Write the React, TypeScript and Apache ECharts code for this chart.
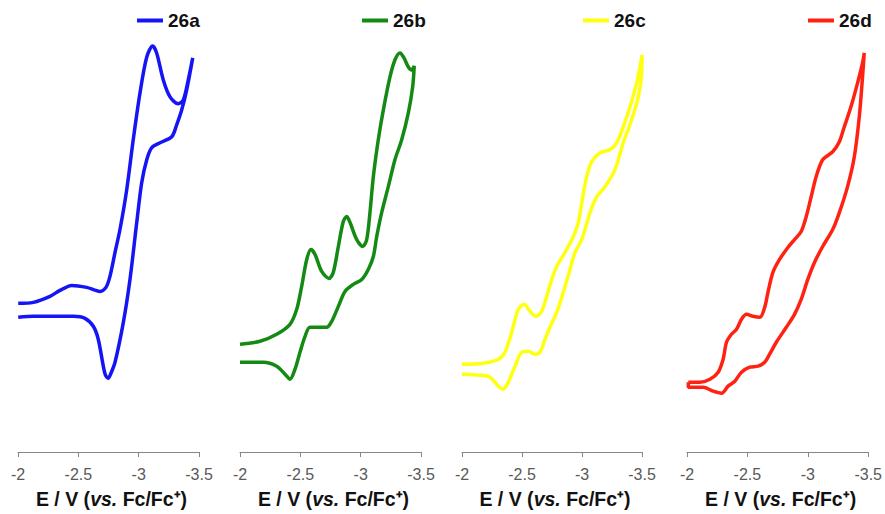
import React, { useEffect, useRef } from "react";
import * as echarts from "echarts";

// ---------- data ----------
const seriesNames = ["26a", "26b", "26c", "26d"];
const xTickMin = -3.5;
const xTickMax = -2;
const xTickStep = 0.5;

// 26a: potential (V vs Fc/Fc+) and current (a.u.), scan order
const e26a = [
  -2.002, -2.127, -2.265, -2.348, -2.445, -2.569, -2.68, -2.729, -2.762, -2.804, -2.845, -2.901,
  -2.955, -3.011, -3.067, -3.116, -3.149, -3.204, -3.26, -3.328, -3.37, -3.411, -3.448,
  -3.398, -3.357, -3.315, -3.274, -3.177, -3.108, -3.067, -3.025, -2.984, -2.928, -2.873,
  -2.804, -2.767, -2.748, -2.725, -2.707, -2.665, -2.624, -2.555, -2.458, -2.127, -2.002,
];
const i26a = [
  14.9, 15.0, 15.6, 16.2, 16.7, 16.5, 16.1, 16.5, 17.6, 20.0, 22.3, 26.3,
  31.3, 36.0, 39.6, 40.7, 40.0, 37.3, 35.6, 34.9, 35.3, 37.3, 39.5,
  36.3, 34.3, 32.8, 31.6, 31.0, 30.5, 29.3, 27.0, 23.0, 17.3, 13.0,
  9.0, 7.8, 7.4, 7.7, 8.6, 11.3, 12.6, 13.4, 13.6, 13.6, 13.5,
];

// 26b
const e26b = [
  -2.0, -2.166, -2.304, -2.414, -2.47, -2.511, -2.553, -2.588, -2.622, -2.677, -2.738, -2.773,
  -2.815, -2.856, -2.884, -2.912, -2.967, -3.017, -3.05, -3.077, -3.105, -3.146, -3.188,
  -3.243, -3.284, -3.326, -3.359, -3.395, -3.423, -3.444,
  -3.431, -3.395, -3.34, -3.284, -3.229, -3.174, -3.133, -3.105, -3.063, -3.009, -2.939,
  -2.87, -2.815, -2.76, -2.718, -2.649, -2.58, -2.539, -2.497, -2.456, -2.414, -2.373,
  -2.304, -2.193, -2.0,
];
const i26b = [
  10.8, 11.1, 11.8, 12.8, 14.3, 16.6, 19.3, 20.3, 19.8, 18.1, 17.4, 18.0,
  20.6, 23.1, 23.6, 23.0, 21.3, 20.6, 21.3, 24.0, 27.6, 31.3, 34.3,
  37.6, 39.3, 40.0, 39.5, 38.6, 38.3, 38.7,
  36.6, 34.0, 31.3, 29.3, 26.6, 24.0, 21.6, 19.6, 18.3, 17.3, 16.8,
  16.1, 14.6, 13.1, 12.5, 12.5, 12.5, 11.6, 10.0, 8.3, 7.3, 7.8,
  8.6, 9.0, 9.0,
];

// 26c
const e26c = [
  -2.0, -2.178, -2.303, -2.358, -2.414, -2.469, -2.517, -2.567, -2.617, -2.664, -2.706, -2.748,
  -2.789, -2.858, -2.928, -2.969, -2.998, -3.039, -3.081, -3.15, -3.233, -3.289, -3.344,
  -3.4, -3.456, -3.49, -3.5,
  -3.495, -3.469, -3.414, -3.344, -3.275, -3.192, -3.123, -3.067, -2.998, -2.942, -2.9,
  -2.844, -2.789, -2.733, -2.692, -2.65, -2.608, -2.553, -2.498, -2.442, -2.386, -2.344,
  -2.303, -2.233, -2.15, -2.0,
];
const i26c = [
  8.8, 8.9, 9.3, 10.0, 12.0, 14.3, 14.8, 14.1, 13.6, 14.1, 15.6, 17.3,
  18.6, 20.0, 21.6, 23.0, 25.0, 27.6, 29.1, 30.0, 30.3, 31.0, 32.6,
  34.6, 37.0, 39.0, 39.8,
  37.6, 35.6, 33.3, 31.0, 28.3, 26.6, 25.6, 24.0, 21.3, 20.0, 18.3,
  16.0, 14.0, 12.5, 11.3, 10.0, 9.8, 10.1, 10.0, 8.6, 7.0, 6.3,
  6.6, 7.5, 7.7, 7.8,
];

// 26d
const e26d = [
  -2.011, -2.107, -2.19, -2.258, -2.299, -2.327, -2.368, -2.41, -2.451, -2.492, -2.546, -2.602,
  -2.643, -2.67, -2.711, -2.766, -2.835, -2.89, -2.945, -2.987, -3.028, -3.069, -3.123,
  -3.206, -3.261, -3.302, -3.357, -3.412, -3.453, -3.467,
  -3.453, -3.426, -3.385, -3.329, -3.261, -3.206, -3.123, -3.055, -3.0, -2.945, -2.89,
  -2.822, -2.739, -2.684, -2.643, -2.588, -2.519, -2.451, -2.396, -2.34, -2.286, -2.217,
  -2.134, -2.011, -2.011,
];
const i26d = [
  7.0, 7.0, 7.3, 8.0, 9.3, 11.0, 11.8, 12.3, 13.3, 13.8, 13.6, 13.5,
  14.5, 16.0, 18.0, 19.3, 20.5, 21.3, 22.1, 23.6, 25.6, 27.6, 29.3,
  30.1, 31.1, 32.6, 34.6, 37.0, 39.0, 40.0,
  37.6, 33.6, 29.6, 26.6, 24.0, 22.3, 20.6, 19.0, 17.3, 15.3, 13.8,
  12.5, 11.0, 9.8, 9.0, 8.6, 8.5, 8.0, 7.1, 6.6, 5.9, 6.1,
  6.5, 6.5, 7.0,
];

const potentials = [e26a, e26b, e26c, e26d];
const currents = [i26a, i26b, i26c, i26d];

// ---------- layout / style ----------
const colors = ["#1414f5", "#148a14", "#ffff10", "#ff2212"];
const gridLefts = [18, 240, 462, 687];
const gridWidths = [181, 181, 180, 182];
const legendLefts = [137, 362, 583, 808];
const FONT = "'Liberation Sans', Arial, Helvetica, sans-serif";

export default function App() {
  const ref = useRef<HTMLDivElement>(null);

  useEffect(() => {
    if (!ref.current) return;
    const chart = echarts.init(ref.current, undefined, { renderer: "svg" });

    const grids = gridLefts.map((l, i) => ({
      left: l,
      width: gridWidths[i],
      top: 40,
      bottom: 61,
    }));

    const xAxes = seriesNames.map((_, i) => ({
      type: "value",
      gridIndex: i,
      min: xTickMin,
      max: xTickMax,
      interval: xTickStep,
      inverse: true,
      splitLine: { show: false },
      axisLine: { show: true, onZero: false, lineStyle: { color: "#878787", width: 1 } },
      axisTick: { show: true, inside: false, length: 5, lineStyle: { color: "#878787" } },
      axisLabel: {
        color: "#595959",
        fontSize: 16,
        fontFamily: FONT,
        margin: 14,
      },
      name: "{b|E / V (}{i|vs.}{b| Fc/Fc⁺)}",
      nameLocation: "middle",
      nameGap: 37,
      nameTextStyle: {
        padding: [0, 0, 0, 6],
        rich: {
          b: { fontSize: 19.5, fontWeight: "bold", color: "#111", fontFamily: FONT },
          i: { fontSize: 19.5, fontWeight: "bold", fontStyle: "italic", color: "#111", fontFamily: FONT },
        },
      },
    }));

    const yAxes = seriesNames.map((_, i) => ({
      type: "value",
      gridIndex: i,
      min: 0,
      max: 41.3,
      show: false,
    }));

    const series = seriesNames.map((name, i) => ({
      name,
      type: "line",
      xAxisIndex: i,
      yAxisIndex: i,
      data: potentials[i].map((e, k) => [e, currents[i][k]]),
      symbol: "none",
      smooth: 0.3,
      lineStyle: { color: colors[i], width: 3.5 },
      itemStyle: { color: colors[i] },
      clip: false,
    }));

    const legends = seriesNames.map((name, i) => ({
      data: [name],
      left: legendLefts[i],
      top: 11,
      padding: 0,
      icon: "rect",
      itemWidth: 26,
      itemHeight: 4,
      selectedMode: false,
      textStyle: { fontSize: 19, fontWeight: "bold", color: "#111", fontFamily: FONT },
    }));

    chart.setOption({
      animation: false,
      backgroundColor: "#ffffff",
      grid: grids,
      xAxis: xAxes,
      yAxis: yAxes,
      legend: legends,
      series,
    });

    return () => chart.dispose();
  }, []);

  return (
    <div
      ref={ref}
      style={{ position: "fixed", left: 0, top: 0, width: 885, height: 514 }}
    />
  );
}
